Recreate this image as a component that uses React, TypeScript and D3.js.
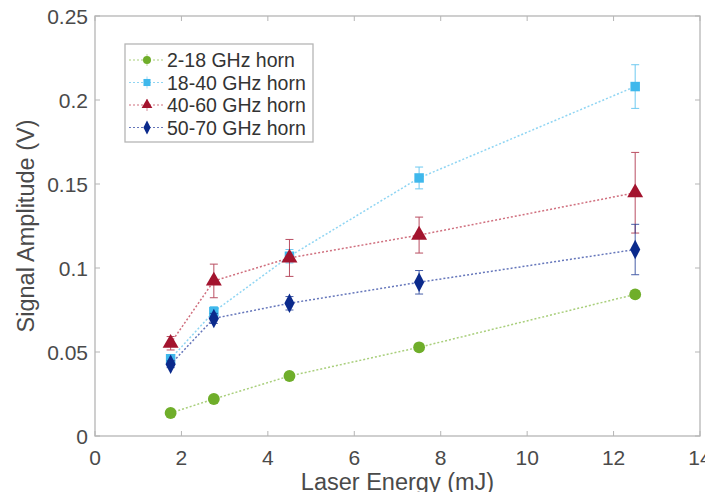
import React, { useEffect, useRef } from 'react';
import * as d3 from 'd3';

// laser energies (mJ) used for every horn
const energies = [1.75, 2.75, 4.5, 7.5, 12.5];

// signal amplitude (V) and error bar half-heights
const horn2to18 = [0.0137, 0.022, 0.0357, 0.0528, 0.0843];
const horn2to18Err = [0.001, 0.001, 0.001, 0.001, 0.002];
const horn18to40 = [0.046, 0.074, 0.107, 0.1536, 0.208];
const horn18to40Err = [0.002, 0.003, 0.004, 0.0065, 0.013];
const horn40to60 = [0.0552, 0.0923, 0.106, 0.1196, 0.1448];
const horn40to60Err = [0.004, 0.01, 0.011, 0.0107, 0.024];
const horn50to70 = [0.0427, 0.07, 0.079, 0.0915, 0.111];
const horn50to70Err = [0.002, 0.003, 0.004, 0.007, 0.015];

const seriesNames = ['2-18 GHz horn', '18-40 GHz horn', '40-60 GHz horn', '50-70 GHz horn'];
const xTicks = [0, 2, 4, 6, 8, 10, 12, 14];
const yTicks = [0, 0.05, 0.1, 0.15, 0.2, 0.25];

export default function App() {
  const ref = useRef<SVGSVGElement>(null);
  const width = 713;
  const height = 500;
  const margin = { left: 95, right: 13, top: 16, bottom: 64 };

  useEffect(() => {
    const svg = d3.select(ref.current);
    svg.selectAll('*').remove();

    const x = d3.scaleLinear().domain([0, 14]).range([margin.left, width - margin.right]);
    const y = d3.scaleLinear().domain([0, 0.25]).range([height - margin.bottom, margin.top]);

    const series = [
      { name: seriesNames[0], vals: horn2to18, errs: horn2to18Err, color: '#6fae2a', line: '#a9cf7c', shape: 'circle' },
      { name: seriesNames[1], vals: horn18to40, errs: horn18to40Err, color: '#3fb8ec', line: '#8fd5f3', shape: 'square' },
      { name: seriesNames[2], vals: horn40to60, errs: horn40to60Err, color: '#a3142e', line: '#d0707f', shape: 'triangle' },
      { name: seriesNames[3], vals: horn50to70, errs: horn50to70Err, color: '#0b2a8c', line: '#6677bb', shape: 'diamond' },
    ];

    const symbolFor = (shape: string) => {
      if (shape === 'circle') return d3.symbol(d3.symbolCircle, 110);
      if (shape === 'square') return d3.symbol(d3.symbolSquare, 90);
      if (shape === 'triangle') return d3.symbol(d3.symbolTriangle, 110);
      return d3.symbol(d3.symbolDiamond, 100);
    };

    // white plot background and box
    svg.append('rect')
      .attr('x', x(0)).attr('y', y(0.25))
      .attr('width', x(14) - x(0)).attr('height', y(0) - y(0.25))
      .attr('fill', '#fff').attr('stroke', '#b5b5b5').attr('stroke-width', 1.3);

    const font = 'Liberation Sans, Arial, sans-serif';

    // ticks inside on all four sides
    const tickLen = 5;
    const ticks = svg.append('g').attr('stroke', '#b5b5b5').attr('stroke-width', 1);
    xTicks.forEach((t) => {
      ticks.append('line').attr('x1', x(t)).attr('x2', x(t)).attr('y1', y(0)).attr('y2', y(0) - tickLen);
      ticks.append('line').attr('x1', x(t)).attr('x2', x(t)).attr('y1', y(0.25)).attr('y2', y(0.25) + tickLen);
    });
    yTicks.forEach((t) => {
      ticks.append('line').attr('x1', x(0)).attr('x2', x(0) + tickLen).attr('y1', y(t)).attr('y2', y(t));
      ticks.append('line').attr('x1', x(14)).attr('x2', x(14) - tickLen).attr('y1', y(t)).attr('y2', y(t));
    });

    svg.append('g').selectAll('text').data(xTicks).enter().append('text')
      .attr('x', (d) => x(d)).attr('y', y(0) + 29)
      .attr('text-anchor', 'middle')
      .style('font-family', font).style('font-size', '21px').attr('fill', '#4a4a4a')
      .text((d) => String(d));

    svg.append('g').selectAll('text').data(yTicks).enter().append('text')
      .attr('x', x(0) - 7).attr('y', (d) => y(d) + 7.5)
      .attr('text-anchor', 'end')
      .style('font-family', font).style('font-size', '21px').attr('fill', '#4a4a4a')
      .text((d) => String(d));

    svg.append('text')
      .attr('x', (x(0) + x(14)) / 2).attr('y', 490)
      .attr('text-anchor', 'middle')
      .style('font-family', font).style('font-size', '23.5px').attr('fill', '#4a4a4a')
      .text('Laser Energy (mJ)');

    svg.append('text')
      .attr('transform', `translate(34, ${(y(0) + y(0.25)) / 2}) rotate(-90)`)
      .attr('text-anchor', 'middle')
      .style('font-family', font).style('font-size', '23.5px').attr('fill', '#4a4a4a')
      .text('Signal Amplitude (V)');

    // series: dotted lines, error bars, markers
    series.forEach((s) => {
      const pts = energies.map((e, i) => ({ e, v: s.vals[i], err: s.errs[i] }));
      const line = d3.line<{ e: number; v: number }>().x((d) => x(d.e)).y((d) => y(d.v));
      svg.append('path').datum(pts)
        .attr('d', line).attr('fill', 'none')
        .attr('stroke', s.line).attr('stroke-width', 1.5).attr('stroke-dasharray', '2,2');

      const eb = svg.append('g').attr('stroke', s.color).attr('stroke-width', 1).attr('opacity', 0.75);
      pts.forEach((p) => {
        eb.append('line').attr('x1', x(p.e)).attr('x2', x(p.e)).attr('y1', y(p.v - p.err)).attr('y2', y(p.v + p.err));
        [p.v - p.err, p.v + p.err].forEach((v) => {
          eb.append('line').attr('x1', x(p.e) - 4).attr('x2', x(p.e) + 4).attr('y1', y(v)).attr('y2', y(v));
        });
      });

      svg.append('g').selectAll('path').data(pts).enter().append('path')
        .attr('d', symbolFor(s.shape)())
        .attr('transform', (d) => `translate(${x(d.e)},${y(d.v)})${s.shape === 'diamond' ? ' scale(0.95,1.05)' : ''}`)
        .attr('fill', s.color);
    });

    // legend
    const lg = svg.append('g');
    lg.append('rect')
      .attr('x', 125).attr('y', 44).attr('width', 188).attr('height', 98)
      .attr('fill', '#fff').attr('stroke', '#b5b5b5').attr('stroke-width', 1.3);
    series.forEach((s, i) => {
      const cy = 60 + i * 22.5;
      lg.append('line').attr('x1', 129).attr('x2', 163).attr('y1', cy).attr('y2', cy)
        .attr('stroke', s.line).attr('stroke-width', 1.2).attr('stroke-dasharray', '2,2');
      lg.append('line').attr('x1', 147).attr('x2', 147).attr('y1', cy - 6).attr('y2', cy + 6)
        .attr('stroke', s.color).attr('stroke-width', 0.8).attr('opacity', 0.6);
      lg.append('path')
        .attr('d', symbolFor(s.shape).size(50)())
        .attr('transform', `translate(147,${cy})${s.shape === 'diamond' ? ' scale(0.95,1.05)' : ''}`)
        .attr('fill', s.color);
      lg.append('text')
        .attr('x', 167).attr('y', cy + 7)
        .style('font-family', font).style('font-size', '19.5px').attr('fill', '#333')
        .text(s.name);
    });
  }, []);

  return (
    <div style={{ margin: '-8px' }}>
      <svg ref={ref} width={width} height={height} style={{ display: 'block', background: '#fff' }} />
    </div>
  );
}
